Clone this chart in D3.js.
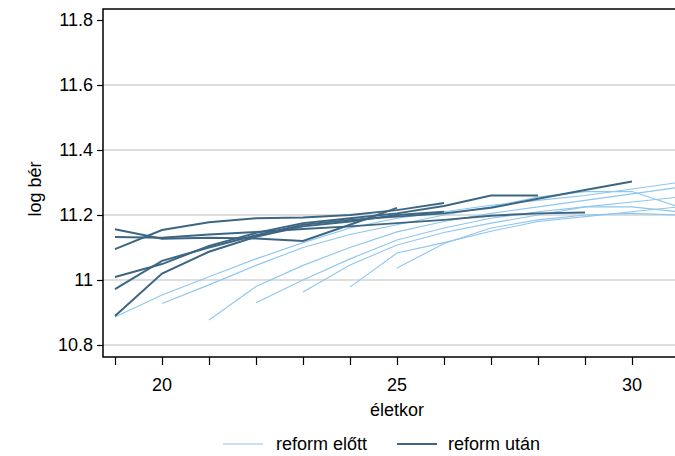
<!DOCTYPE html>
<html><head><meta charset="utf-8">
<script src="https://cdn.jsdelivr.net/npm/d3@7"></script>
<style>body{margin:0;background:#fff}text{font-family:"Liberation Sans",Arial,sans-serif;fill:#000}</style>
</head><body>
<svg id="c" width="675" height="456"></svg>
<script>
// Data: cohort wage profiles (log wage by age)
const xTicksMajor = [20, 25, 30];
const xTicksMinor = [19,20,21,22,23,24,25,26,27,28,29,30,31];
const yTicks = [10.8, 11, 11.2, 11.4, 11.6, 11.8];
const yTickLabels = ["10.8", "11", "11.2", "11.4", "11.6", "11.8"];
const seriesNames = ["reform előtt", "reform után"];

const beforeStarts = [19, 20, 21, 22, 23, 24, 25];
const beforeValues = [
  [10.886, 10.954, 11.01, 11.065, 11.115, 11.16, 11.19, 11.21, 11.23, 11.245, 11.26, 11.28, 11.3],
  [10.928, 10.985, 11.045, 11.1, 11.14, 11.17, 11.2, 11.225, 11.255, 11.272, 11.272, 11.225],
  [10.877, 10.98, 11.045, 11.1, 11.148, 11.18, 11.205, 11.225, 11.245, 11.265, 11.285],
  [10.93, 11.0, 11.065, 11.123, 11.16, 11.19, 11.21, 11.225, 11.24, 11.255],
  [10.963, 11.046, 11.108, 11.146, 11.175, 11.2, 11.225, 11.225, 11.21],
  [10.978, 11.083, 11.115, 11.15, 11.18, 11.195, 11.21, 11.225],
  [11.037, 11.112, 11.16, 11.185, 11.2, 11.205, 11.2]
];

const afterStarts = [19, 19, 19, 19, 19, 19];
const afterValues = [
  [11.095, 11.154, 11.178, 11.19, 11.192, 11.2, 11.215, 11.237],
  [11.156, 11.127, 11.13, 11.128, 11.12, 11.17, 11.222],
  [11.132, 11.13, 11.14, 11.148, 11.157, 11.165, 11.175, 11.185, 11.198, 11.205, 11.208],
  [11.009, 11.049, 11.105, 11.145, 11.175, 11.19, 11.205, 11.228, 11.26, 11.26],
  [10.972, 11.059, 11.1, 11.138, 11.17, 11.185, 11.195, 11.205, 11.222, 11.25, 11.277, 11.303],
  [10.889, 11.02, 11.087, 11.133, 11.165, 11.18, 11.2, 11.21]
];

const colBefore = "#8fc6ee", colAfter = "#3d6683";

const svg = d3.select("#c");
const L = 103, T = 9, R = 720, B = 357;
const x = d3.scaleLinear().domain([20, 30]).range([162, 632]);
const y = d3.scaleLinear().domain([10.8, 11.8]).range([345, 20]);

svg.append("clipPath").attr("id","clip").append("rect")
  .attr("x", L).attr("y", T).attr("width", R - L).attr("height", B - T);

// grid
svg.append("g").selectAll("line").data(yTicks.filter(v => v < 11.8)).join("line")
  .attr("x1", L).attr("x2", R).attr("y1", d => y(d)).attr("y2", d => y(d))
  .attr("stroke", "#d3d3d3").attr("stroke-width", 1.5);

// lines
const toPts = (start, vals) => vals.map((v, i) => [start + i, v]);
const line = d3.line().x(d => x(d[0])).y(d => y(d[1]));
const g = svg.append("g").attr("clip-path", "url(#clip)");
g.selectAll("path.b").data(beforeValues.map((v, i) => toPts(beforeStarts[i], v))).join("path")
  .attr("class","b").attr("d", line).attr("fill","none").attr("stroke", colBefore).attr("stroke-width", 1.1);
g.selectAll("path.a").data(afterValues.map((v, i) => toPts(afterStarts[i], v))).join("path")
  .attr("class","a").attr("d", line).attr("fill","none").attr("stroke", colAfter).attr("stroke-width", 2);

// frame (left + top + bottom)
svg.append("path").attr("d", `M${R},${T}H${L}V${B}H${R}`).attr("fill","none")
  .attr("stroke","#000").attr("stroke-width",1.5);

// y axis
const yAxis = d3.axisLeft(y).tickValues(yTicks).tickSize(6).tickPadding(4)
  .tickFormat((d, i) => yTickLabels[i]);
const ya = svg.append("g").attr("transform", `translate(${L},0)`).call(yAxis);
ya.select(".domain").remove();
ya.selectAll("line").attr("stroke","#000").attr("stroke-width",1.2);
ya.selectAll("text").style("font-size","18px").style("font-family","Liberation Sans, Arial, sans-serif");

// x axis
const xa = svg.append("g").attr("transform", `translate(0,${B})`)
  .call(d3.axisBottom(x).tickValues(xTicksMinor).tickSize(8).tickFormat(""));
xa.select(".domain").remove();
xa.selectAll("line").attr("stroke","#000").attr("stroke-width",1.2);
svg.append("g").selectAll("text").data(xTicksMajor).join("text")
  .attr("x", d => x(d)).attr("y", 391).attr("text-anchor","middle")
  .style("font-size","18px").text(d => d);

// titles
svg.append("text").attr("x", 397).attr("y", 416).attr("text-anchor","middle")
  .style("font-size","18px").text("életkor");
svg.append("text").attr("transform","translate(41,189) rotate(-90)").attr("text-anchor","middle")
  .style("font-size","18px").text("log bér");

// legend
const leg = [{x1: 223, x2: 263, tx: 276, c: colBefore, w: 1.1}, {x1: 397, x2: 437, tx: 448, c: colAfter, w: 2}];
svg.append("g").selectAll("line").data(leg).join("line")
  .attr("x1", d => d.x1).attr("x2", d => d.x2).attr("y1", 444).attr("y2", 444)
  .attr("stroke", d => d.c).attr("stroke-width", d => d.w);
svg.append("g").selectAll("text").data(leg).join("text")
  .attr("x", d => d.tx).attr("y", 450).style("font-size","18px").text((d, i) => seriesNames[i]);
</script>
</body></html>
